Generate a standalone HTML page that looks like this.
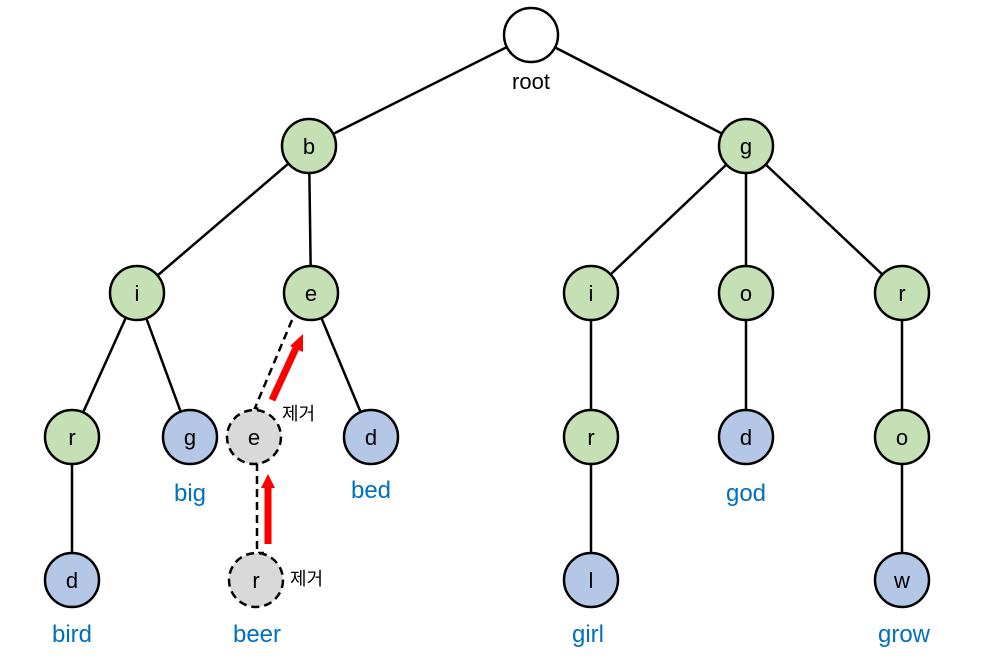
<!DOCTYPE html>
<html><head><meta charset="utf-8"><style>body{margin:0;background:#fff}</style></head><body>
<svg width="1001" height="664" xmlns="http://www.w3.org/2000/svg" font-family="Liberation Sans, sans-serif">
<g stroke="#000" stroke-width="2.5">
<line x1="531" y1="35" x2="309" y2="146"/><line x1="531" y1="35" x2="746" y2="146"/>
<line x1="309" y1="146" x2="137" y2="293"/><line x1="309" y1="146" x2="311" y2="293"/>
<line x1="746" y1="146" x2="591" y2="293"/><line x1="746" y1="146" x2="746" y2="293"/><line x1="746" y1="146" x2="902" y2="293"/>
<line x1="137" y1="293" x2="72" y2="437"/><line x1="137" y1="293" x2="190" y2="437"/>
<line x1="311" y1="293" x2="371" y2="437"/>
<line x1="591" y1="293" x2="591" y2="437"/><line x1="746" y1="293" x2="746" y2="437"/><line x1="902" y1="293" x2="902" y2="437"/>
<line x1="72" y1="437" x2="72" y2="580"/><line x1="591" y1="437" x2="591" y2="580"/><line x1="902" y1="437" x2="902" y2="580"/>
</g>
<g stroke="#000" stroke-width="2.5" stroke-dasharray="8,5" fill="none">
<polyline points="292,320 255,408 263,410"/>
<polyline points="257,463 257,553 264,553"/>
</g>
<g stroke="#000" stroke-width="2.5">
<circle cx="531" cy="35" r="27" fill="#fff"/>
<g fill="#C5E0B4">
<circle cx="309" cy="146" r="27"/><circle cx="746" cy="146" r="27"/>
<circle cx="137" cy="293" r="27"/><circle cx="311" cy="293" r="27"/><circle cx="591" cy="293" r="27"/><circle cx="746" cy="293" r="27"/><circle cx="902" cy="293" r="27"/>
<circle cx="72" cy="437" r="27"/><circle cx="591" cy="437" r="27"/><circle cx="902" cy="437" r="27"/>
</g>
<g fill="#B4C7E7">
<circle cx="190" cy="437" r="27"/><circle cx="371" cy="437" r="27"/><circle cx="746" cy="437" r="27"/>
<circle cx="72" cy="580" r="27"/><circle cx="591" cy="580" r="27"/><circle cx="902" cy="580" r="27"/>
</g>
<g fill="#D9D9D9" stroke-dasharray="8,5">
<circle cx="254" cy="437" r="27"/><circle cx="256" cy="580" r="27"/>
</g>
</g>
<g fill="#ff0000" stroke="none">
<line x1="272" y1="400" x2="296" y2="348" stroke="#f00" stroke-width="7"/>
<polygon points="303,334 290,346 303,352"/>
<line x1="268" y1="544" x2="268" y2="487" stroke="#f00" stroke-width="7"/>
<polygon points="268,474 261,488 275,488"/>
</g>
<g font-size="22" text-anchor="middle" fill="#000">
<text x="309" y="154">b</text><text x="746" y="154">g</text>
<text x="137" y="301">i</text><text x="311" y="301">e</text><text x="591" y="301">i</text><text x="746" y="301">o</text><text x="902" y="301">r</text>
<text x="72" y="445">r</text><text x="190" y="445">g</text><text x="254" y="445">e</text><text x="371" y="445">d</text><text x="591" y="445">r</text><text x="746" y="445">d</text><text x="902" y="445">o</text>
<text x="72" y="588">d</text><text x="256" y="588">r</text><text x="591" y="588">l</text><text x="902" y="588">w</text>
<text x="531" y="89">root</text>
</g>
<g font-size="18" fill="#000" font-family="Liberation Sans, Noto Sans CJK KR, sans-serif">
<text x="282" y="420">제거</text><text x="290" y="585">제거</text>
</g>
<g font-size="24" text-anchor="middle" fill="#0070C0">
<text x="190" y="501">big</text><text x="371" y="498">bed</text><text x="746" y="501">god</text>
<text x="72" y="642">bird</text><text x="257" y="642">beer</text><text x="588" y="642">girl</text><text x="904" y="642">grow</text>
</g>
</svg>
</body></html>
